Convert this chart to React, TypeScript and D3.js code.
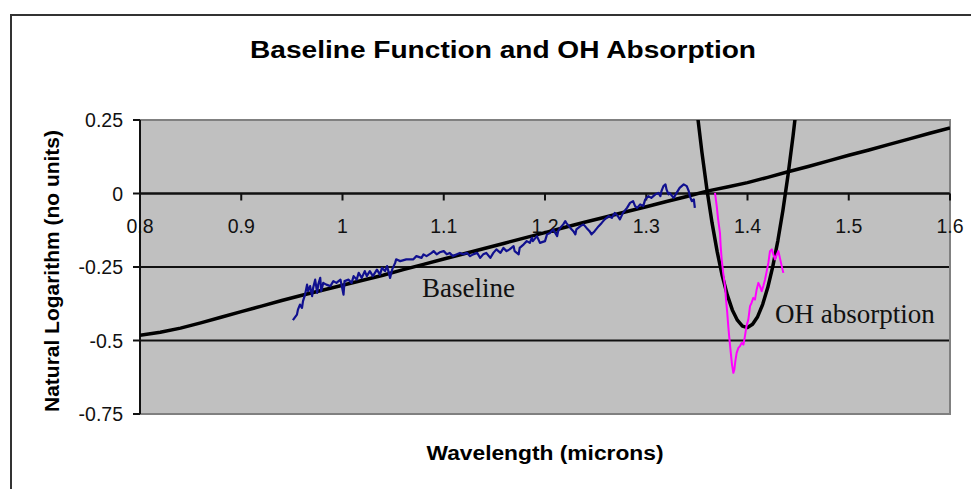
import React from "react";
import * as d3 from "d3";

// Axis ticks
const xTicks = [0.8, 0.9, 1.0, 1.1, 1.2, 1.3, 1.4, 1.5, 1.6];
const xTickLabels = ["0.8", "0.9", "1", "1.1", "1.2", "1.3", "1.4", "1.5", "1.6"];
const yTicks = [0.25, 0, -0.25, -0.5, -0.75];
const yTickLabels = ["0.25", "0", "-0.25", "-0.5", "-0.75"];

// Baseline function (wavelength, ln value)
const baselineCurve: [number, number][] = [
  [0.80, -0.482], [0.82, -0.472], [0.84, -0.458], [0.86, -0.440], [0.88, -0.421],
  [0.90, -0.402], [0.92, -0.383], [0.94, -0.364], [0.96, -0.346], [0.98, -0.329],
  [1.00, -0.312], [1.02, -0.295], [1.04, -0.278], [1.06, -0.259], [1.08, -0.241],
  [1.10, -0.223], [1.12, -0.205], [1.14, -0.187], [1.16, -0.169], [1.18, -0.151],
  [1.20, -0.133], [1.22, -0.115], [1.24, -0.097], [1.26, -0.080], [1.28, -0.062],
  [1.30, -0.045], [1.32, -0.027], [1.34, -0.010], [1.36, 0.008], [1.38, 0.022],
  [1.40, 0.037], [1.42, 0.055], [1.44, 0.074], [1.46, 0.092], [1.48, 0.111],
  [1.50, 0.130], [1.52, 0.148], [1.54, 0.167], [1.56, 0.186], [1.58, 0.205],
  [1.60, 0.223],
];

// Fitted OH absorption band
const ohFit: [number, number][] = [
  [1.345, 0.442], [1.350, 0.284], [1.355, 0.140], [1.360, 0.012], [1.365, -0.100],
  [1.370, -0.197], [1.375, -0.279], [1.380, -0.345], [1.385, -0.396], [1.390, -0.431],
  [1.395, -0.451], [1.400, -0.456], [1.405, -0.445], [1.410, -0.419], [1.415, -0.377],
  [1.420, -0.320], [1.425, -0.248], [1.430, -0.160], [1.435, -0.057], [1.440, 0.062],
  [1.445, 0.196], [1.450, 0.345],
];

// Measured spectrum outside the band
const measured: [number, number][] = [
  [0.951, -0.431], [0.955, -0.412], [0.956, -0.395], [0.958, -0.378], [0.960, -0.389],
  [0.961, -0.366], [0.963, -0.344], [0.965, -0.310], [0.966, -0.332], [0.968, -0.315],
  [0.970, -0.349], [0.971, -0.321], [0.973, -0.293], [0.975, -0.338], [0.976, -0.310],
  [0.978, -0.287], [0.979, -0.332], [0.981, -0.304], [0.984, -0.310], [0.988, -0.315],
  [0.991, -0.298], [0.994, -0.304], [0.998, -0.293], [1.001, -0.344], [1.002, -0.298],
  [1.006, -0.293], [1.009, -0.304], [1.011, -0.281], [1.014, -0.293], [1.016, -0.270],
  [1.019, -0.287], [1.022, -0.264], [1.024, -0.281], [1.027, -0.264], [1.030, -0.281],
  [1.034, -0.259], [1.037, -0.276], [1.039, -0.253], [1.042, -0.264], [1.044, -0.247],
  [1.047, -0.287], [1.049, -0.259], [1.052, -0.236], [1.053, -0.224], [1.057, -0.230],
  [1.063, -0.224], [1.070, -0.224], [1.073, -0.213], [1.078, -0.219], [1.080, -0.207],
  [1.083, -0.213], [1.088, -0.202], [1.090, -0.196], [1.093, -0.207], [1.096, -0.200],
  [1.100, -0.196], [1.103, -0.207], [1.106, -0.202], [1.109, -0.213], [1.113, -0.207],
  [1.116, -0.202], [1.119, -0.207], [1.123, -0.202], [1.126, -0.213], [1.129, -0.207],
  [1.133, -0.202], [1.136, -0.219], [1.139, -0.207], [1.142, -0.202], [1.146, -0.219],
  [1.149, -0.202], [1.152, -0.190], [1.156, -0.202], [1.159, -0.185], [1.162, -0.196],
  [1.165, -0.190], [1.169, -0.179], [1.170, -0.196], [1.174, -0.207], [1.175, -0.185],
  [1.179, -0.173], [1.182, -0.162], [1.185, -0.168], [1.187, -0.151], [1.188, -0.162],
  [1.192, -0.145], [1.195, -0.168], [1.200, -0.162], [1.202, -0.139], [1.205, -0.134],
  [1.208, -0.122], [1.212, -0.145], [1.213, -0.128], [1.215, -0.117], [1.218, -0.105],
  [1.220, -0.094], [1.221, -0.100], [1.225, -0.117], [1.228, -0.128], [1.230, -0.139],
  [1.231, -0.122], [1.235, -0.111], [1.238, -0.105], [1.241, -0.117], [1.244, -0.128],
  [1.246, -0.139], [1.249, -0.128], [1.253, -0.111], [1.256, -0.100], [1.259, -0.088],
  [1.263, -0.077], [1.266, -0.083], [1.269, -0.066], [1.272, -0.077], [1.274, -0.088],
  [1.277, -0.066], [1.281, -0.049], [1.284, -0.032], [1.287, -0.026], [1.289, -0.043],
  [1.291, -0.049], [1.294, -0.037], [1.297, -0.043], [1.299, -0.020], [1.302, -0.009],
  [1.305, -0.015], [1.309, -0.003], [1.312, 0.002], [1.314, -0.009], [1.315, 0.008],
  [1.317, 0.025], [1.319, 0.031], [1.320, 0.014], [1.322, -0.003], [1.323, 0.002],
  [1.327, -0.015], [1.330, 0.002], [1.333, 0.019], [1.337, 0.031], [1.340, 0.025],
  [1.342, 0.008], [1.343, -0.009], [1.345, -0.026], [1.347, -0.020], [1.348, -0.049],
];

// Measured spectrum inside the OH band
const ohMeasured: [number, number][] = [
  [1.3679, 0.002], [1.3696, -0.043], [1.371, -0.088], [1.3728, -0.134], [1.3735, -0.179],
  [1.3745, -0.224], [1.376, -0.270], [1.3778, -0.315], [1.3788, -0.361], [1.380, -0.406],
  [1.381, -0.451], [1.3822, -0.497], [1.3835, -0.542], [1.3847, -0.582], [1.386, -0.610],
  [1.387, -0.599], [1.388, -0.570], [1.3893, -0.542], [1.391, -0.525], [1.3926, -0.519],
  [1.3943, -0.508], [1.396, -0.514], [1.3975, -0.485], [1.399, -0.451], [1.4008, -0.429],
  [1.4025, -0.383], [1.404, -0.372], [1.4057, -0.355], [1.4074, -0.361], [1.409, -0.327],
  [1.4107, -0.304], [1.4123, -0.315], [1.414, -0.332], [1.4156, -0.315], [1.4173, -0.293],
  [1.419, -0.264], [1.4206, -0.236], [1.4222, -0.196], [1.424, -0.190], [1.4255, -0.207],
  [1.4272, -0.224], [1.429, -0.207], [1.4305, -0.196], [1.432, -0.219], [1.4338, -0.247],
  [1.4354, -0.270],
];

const W = 971;
const H = 489;
const plot = { left: 140, right: 950, top: 120, bottom: 414 };

const sans = "'Liberation Sans', Arial, sans-serif";
const serif = "'Liberation Serif', 'Times New Roman', serif";

export default function App() {
  const x = d3.scaleLinear().domain([0.8, 1.6]).range([plot.left, plot.right]);
  const y = d3.scaleLinear().domain([-0.75, 0.25]).range([plot.bottom, plot.top]);
  const line = d3
    .line<[number, number]>()
    .x((d) => x(d[0]))
    .y((d) => y(d[1]));

  const x0 = y(0);

  return (
    <svg
      width={W}
      height={H}
      style={{ position: "absolute", left: 0, top: 0, background: "#fff" }}
    >
      <defs>
        <clipPath id="plotClip">
          <rect
            x={plot.left}
            y={plot.top}
            width={plot.right - plot.left}
            height={plot.bottom - plot.top}
          />
        </clipPath>
      </defs>

      {/* chart area frame */}
      <rect x={11} y={15} width={1000} height={520} fill="#fff" stroke="#333" strokeWidth={2} />

      <text
        x={503}
        y={58}
        textAnchor="middle"
        fontFamily={sans}
        fontWeight="bold"
        fontSize={23.5}
        textLength={506}
        lengthAdjust="spacingAndGlyphs"
      >
        Baseline Function and OH Absorption
      </text>

      {/* plot area */}
      <rect
        x={plot.left}
        y={plot.top}
        width={plot.right - plot.left}
        height={plot.bottom - plot.top}
        fill="#c0c0c0"
      />

      {/* horizontal gridlines */}
      {yTicks
        .filter((t) => t !== 0.25 && t !== -0.75)
        .map((t) => (
          <line
            key={"g" + t}
            x1={plot.left}
            x2={plot.right}
            y1={y(t)}
            y2={y(t)}
            stroke="#111"
            strokeWidth={1.8}
          />
        ))}

      {/* plot border */}
      <rect
        x={plot.left}
        y={plot.top}
        width={plot.right - plot.left}
        height={plot.bottom - plot.top}
        fill="none"
        stroke="#808080"
        strokeWidth={2}
      />

      {/* y axis */}
      <line x1={plot.left} x2={plot.left} y1={plot.top} y2={plot.bottom} stroke="#111" strokeWidth={2} />
      {yTicks.map((t, i) => (
        <g key={"y" + t}>
          <line x1={plot.left - 7} x2={plot.left} y1={y(t)} y2={y(t)} stroke="#111" strokeWidth={2} />
          <text
            x={123}
            y={y(t) + 7}
            textAnchor="end"
            fontFamily={sans}
            fontSize={19.5}
            fill="#111"
          >
            {yTickLabels[i]}
          </text>
        </g>
      ))}

      {/* x axis crossing at zero */}
      <line x1={plot.left} x2={plot.right} y1={x0} y2={x0} stroke="#111" strokeWidth={2} />
      {xTicks.map((t, i) => (
        <g key={"x" + t}>
          <line x1={x(t)} x2={x(t)} y1={x0} y2={x0 + 7} stroke="#111" strokeWidth={2} />
          <text
            x={x(t)}
            y={x0 + 39.5}
            textAnchor="middle"
            fontFamily={sans}
            fontSize={19.5}
            fill="#111"
          >
            {xTickLabels[i]}
          </text>
        </g>
      ))}

      {/* series */}
      <g clipPath="url(#plotClip)" fill="none" strokeLinejoin="round">
        <path d={line(baselineCurve) ?? ""} stroke="#000" strokeWidth={3.5} />
        <path d={line(ohFit) ?? ""} stroke="#000" strokeWidth={3.5} />
        <path d={line(measured) ?? ""} stroke="#10108f" strokeWidth={2.2} />
        <path d={line(ohMeasured) ?? ""} stroke="#ff00ff" strokeWidth={2} />
      </g>

      {/* annotations */}
      <text x={422} y={297} fontFamily={serif} fontSize={27} fill="#111">
        Baseline
      </text>
      <text x={775} y={323} fontFamily={serif} fontSize={27} fill="#111">
        OH absorption
      </text>

      {/* axis titles */}
      <text
        transform={`translate(59, 271) rotate(-90)`}
        textAnchor="middle"
        fontFamily={sans}
        fontWeight="bold"
        fontSize={20}
        textLength={282}
        lengthAdjust="spacingAndGlyphs"
      >
        Natural Logarithm (no units)
      </text>
      <text
        x={545}
        y={460}
        textAnchor="middle"
        fontFamily={sans}
        fontWeight="bold"
        fontSize={20}
        textLength={237}
        lengthAdjust="spacingAndGlyphs"
      >
        Wavelength (microns)
      </text>
    </svg>
  );
}
